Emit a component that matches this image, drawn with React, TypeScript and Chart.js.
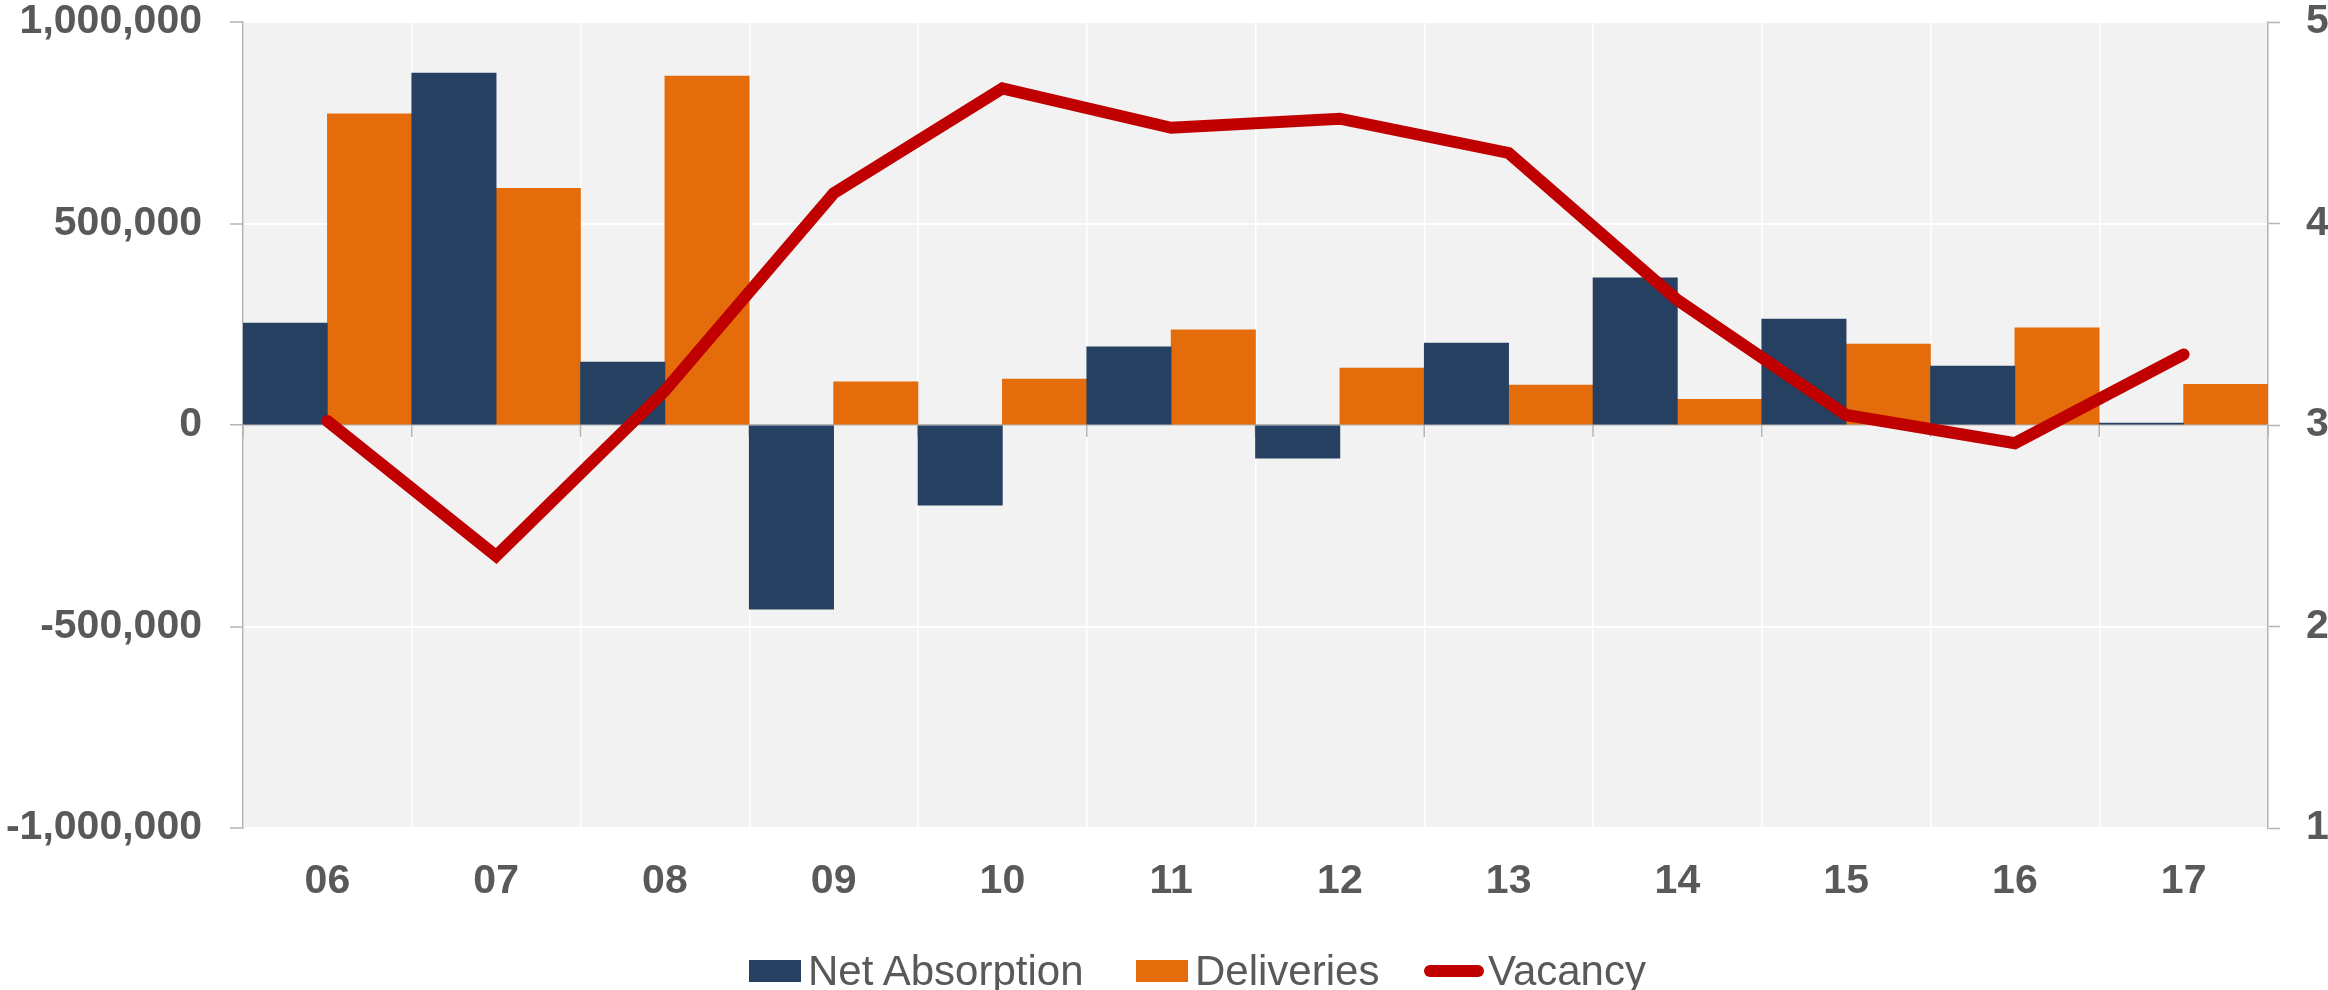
import React, { useEffect, useRef } from "react";
import { Chart, registerables } from "chart.js";

Chart.register(...registerables);

const categories = ["06", "07", "08", "09", "10", "11", "12", "13", "14", "15", "16", "17"];
const netAbsorption = [253000, 873000, 156000, -457000, -199000, 194000, -82000, 203000, 365000, 263000, 146000, 5000];
const deliveries = [772000, 587000, 866000, 107000, 114000, 236000, 141000, 99000, 64000, 201000, 241000, 101000];
const vacancy = [3.02, 2.35, 3.17, 4.15, 4.67, 4.475, 4.52, 4.35, 3.62, 3.05, 2.91, 3.35];

const NAVY = "#264061";
const ORANGE = "#E46C0A";
const RED = "#C00000";
const TEXT = "#595959";
const AXIS = "#B4B4B4";
const FONT = "'Liberation Sans', Arial, sans-serif";

const bgPlugin = {
  id: "plotBg",
  beforeDraw(chart: any) {
    const { ctx, chartArea } = chart;
    ctx.save();
    ctx.fillStyle = "#F2F2F2";
    ctx.fillRect(chartArea.left, chartArea.top, chartArea.right - chartArea.left, chartArea.bottom - chartArea.top);
    ctx.restore();
  },
};

const zeroTicksPlugin = {
  id: "zeroTicks",
  beforeDatasetsDraw(chart: any) {
    const { ctx } = chart;
    const xs = chart.scales.x;
    const y0 = chart.scales.y.getPixelForValue(0);
    ctx.save();
    ctx.strokeStyle = AXIS;
    ctx.lineWidth = 1.5;
    ctx.beginPath();
    for (let i = 0; i <= categories.length; i++) {
      const px = xs.getPixelForValue(i - 0.5);
      ctx.moveTo(px, y0);
      ctx.lineTo(px, y0 + 12);
    }
    ctx.stroke();
    ctx.restore();
  },
};

export default function App() {
  const canvasRef = useRef<HTMLCanvasElement>(null);

  useEffect(() => {
    document.body.style.margin = "0";
    document.body.style.overflow = "hidden";
    const canvas = canvasRef.current!;
    const chart = new Chart(canvas, {
      type: "bar",
      data: {
        labels: categories,
        datasets: [
          {
            type: "line",
            label: "Vacancy",
            data: vacancy,
            yAxisID: "y1",
            borderColor: RED,
            backgroundColor: RED,
            borderWidth: 12,
            pointRadius: 0,
            tension: 0,
            borderCapStyle: "round",
            borderJoinStyle: "miter",
            order: 0,
          } as any,
          {
            type: "bar",
            label: "Net Absorption",
            data: netAbsorption,
            backgroundColor: NAVY,
            borderWidth: 0,
            categoryPercentage: 1,
            barPercentage: 1,
            yAxisID: "y",
            order: 1,
          },
          {
            type: "bar",
            label: "Deliveries",
            data: deliveries,
            backgroundColor: ORANGE,
            borderWidth: 0,
            categoryPercentage: 1,
            barPercentage: 1,
            yAxisID: "y",
            order: 2,
          },
        ],
      },
      options: {
        responsive: false,
        animation: false,
        devicePixelRatio: 1,
        layout: { padding: { top: 22, left: 0, right: 0, bottom: 0 } },
        plugins: {
          legend: { display: false },
          tooltip: { enabled: false },
        },
        scales: {
          x: {
            type: "category",
            offset: true,
            grid: { offset: true, color: "#FFFFFF", lineWidth: 1.5, drawTicks: false },
            border: { display: false },
            ticks: {
              color: TEXT,
              font: { family: FONT, size: 41, weight: "bold", lineHeight: 1 },
              padding: 33,
              maxRotation: 0,
            },
            afterFit(s: any) {
              s.height = 162;
              s.paddingLeft = 0;
              s.paddingRight = 0;
            },
          },
          y: {
            position: "left",
            min: -1000000,
            max: 1000000,
            grid: {
              color: (c: any) => (c.tick && c.tick.value === 0 ? AXIS : "#FFFFFF"),
              lineWidth: (c: any) => (c.tick && c.tick.value === 0 ? 1.5 : 2),
              tickColor: AXIS,
              tickLength: 13,
              tickWidth: 1.5,
            },
            border: { display: true, color: AXIS, width: 1.5 },
            ticks: {
              stepSize: 500000,
              color: TEXT,
              font: { family: FONT, size: 41, weight: "bold", lineHeight: 1 },
              padding: 28,
              callback: (v: any) => Number(v).toLocaleString("en-US"),
            },
            afterFit(s: any) {
              s.width = 243;
              s.paddingTop = 0;
              s.paddingBottom = 0;
            },
          },
          y1: {
            position: "right",
            min: 1,
            max: 5,
            grid: {
              drawOnChartArea: false,
              tickColor: AXIS,
              tickLength: 12,
              tickWidth: 1.5,
            },
            border: { display: true, color: AXIS, width: 1.5 },
            ticks: {
              stepSize: 1,
              color: TEXT,
              font: { family: FONT, size: 41, weight: "bold", lineHeight: 1 },
              padding: 26,
            },
            afterFit(s: any) {
              s.width = 60;
              s.paddingTop = 0;
              s.paddingBottom = 0;
            },
          },
        },
      },
      plugins: [bgPlugin, zeroTicksPlugin],
    });
    return () => chart.destroy();
  }, []);

  const legendText: React.CSSProperties = {
    fontFamily: FONT,
    fontSize: 42,
    lineHeight: "42px",
    color: TEXT,
    whiteSpace: "nowrap",
  };
  const item = (left: number): React.CSSProperties => ({
    position: "absolute",
    left,
    top: 950,
    height: 42,
    display: "flex",
    alignItems: "center",
  });

  return (
    <div style={{ position: "relative", width: 2328, height: 990, overflow: "hidden", background: "#FFFFFF" }}>
      <canvas ref={canvasRef} width={2328} height={990} style={{ display: "block", width: 2328, height: 990 }} />
      <div style={item(749)}>
        <div style={{ width: 52, height: 22, background: NAVY, marginRight: 7 }} />
        <span style={legendText}>Net Absorption</span>
      </div>
      <div style={item(1136)}>
        <div style={{ width: 52, height: 22, background: ORANGE, marginRight: 7 }} />
        <span style={legendText}>Deliveries</span>
      </div>
      <div style={item(1424)}>
        <div style={{ width: 60, height: 12, background: RED, borderRadius: 6, marginRight: 4 }} />
        <span style={legendText}>Vacancy</span>
      </div>
    </div>
  );
}
